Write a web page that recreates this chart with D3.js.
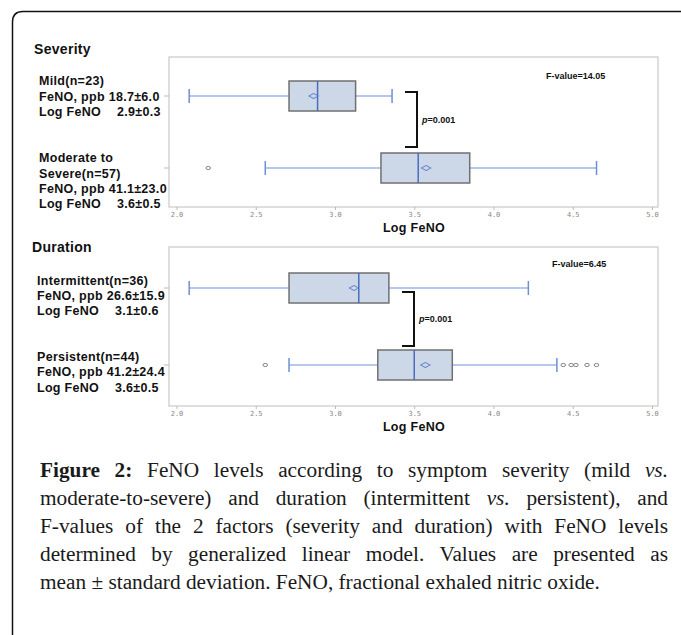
<!DOCTYPE html>
<html>
<head>
<meta charset="utf-8">
<script src="https://cdn.jsdelivr.net/npm/d3@7"></script>
<style>
  body { margin: 0; background: #fff; }
  #wrap { position: relative; width: 681px; height: 635px; overflow: hidden; }
  #caption { position: absolute; left: 40px; top: 456px; width: 628px;
    font-family: "Liberation Serif", "DejaVu Serif", serif; font-size: 21.3px; line-height: 28px; color: #1a1a1a; }
  #caption div { text-align: justify; text-align-last: justify; white-space: nowrap; }
  #caption div.last { text-align-last: left; }
</style>
</head>
<body>
<div id="wrap">
<svg width="681" height="635"></svg>
<div id="caption"></div>
</div>
<script>
// ---- data ----
let panelTitles = ["Severity", "Duration"];
let fValues = ["F-value=14.05", "F-value=6.45"];
let pValues = ["0.001", "0.001"];
// each label line: [left text, value text placed in a second column]
let groupLabels = [
  [[["Mild(n=23)"], ["FeNO, ppb 18.7\u00b16.0"], ["Log FeNO", "2.9\u00b10.3"]],
   [["Moderate to"], ["Severe(n=57)"], ["FeNO, ppb 41.1\u00b123.0"], ["Log FeNO", "3.6\u00b10.5"]]],
  [[["Intermittent(n=36)"], ["FeNO, ppb 26.6\u00b115.9"], ["Log FeNO", "3.1\u00b10.6"]],
   [["Persistent(n=44)"], ["FeNO, ppb 41.2\u00b124.4"], ["Log FeNO", "3.6\u00b10.5"]]]
];
let groups = [["mild", "modsev"], ["intermittent", "persistent"]];
let whiskerLow  = [[2.08, 2.56], [2.08, 2.71]];
let q1          = [[2.71, 3.29], [2.71, 3.27]];
let median      = [[2.89, 3.525], [3.15, 3.50]];
let q3          = [[3.13, 3.85], [3.34, 3.74]];
let whiskerHigh = [[3.36, 4.65], [4.22, 4.40]];
let means       = [[2.865, 3.575], [3.12, 3.57]];
let outliers    = [[[], [2.20]], [[], [2.56, 4.44, 4.49, 4.52, 4.59, 4.65]]];
let xTicks = [2.0, 2.5, 3.0, 3.5, 4.0, 4.5, 5.0];
let axisTitle = "Log FeNO";
let captionLines = [
  "<b>Figure 2:</b> FeNO levels according to symptom severity (mild <i>vs.</i>",
  "moderate-to-severe) and duration (intermittent <i>vs.</i> persistent), and",
  "F-values of the 2 factors (severity and duration) with FeNO levels",
  "determined by generalized linear model. Values are presented as",
  "mean \u00b1 standard deviation. FeNO, fractional exhaled nitric oxide."
];

// ---- layout ----
let svg = d3.select("svg");
let font = "'Liberation Sans', Arial, sans-serif";
let frameL = 169, frameR = 658;
let panels = [
  {top: 57, bottom: 207, rows: [96, 168], titleY: 49, labelY: [[81, 97, 112], [158, 174, 189, 204]], labelX: 39, titleX: 34,
   bracket: {x0: 405, x1: 417, y0: 92, y1: 147}, fX: 546, fY: 76},
  {top: 247, bottom: 406, rows: [288, 365], titleY: 247, labelY: [[281, 296, 311], [357, 372, 388]], labelX: 37, titleX: 32,
   bracket: {x0: 402, x1: 414, y0: 292, y1: 346}, fX: 552, fY: 264}
];

let x = d3.scaleLinear().domain([2.0, 5.0]).range([176.5, 652]);

// outer border
svg.append("path")
  .attr("d", "M12.5,635 L12.5,22 Q12.5,11.5 23,11.5 L681,11.5")
  .attr("fill", "none").attr("stroke", "#111").attr("stroke-width", 1.5);

panels.forEach(function(p, i) {
  let g = svg.append("g");
  let y = d3.scaleOrdinal().domain(groups[i]).range(p.rows);

  g.append("text").attr("x", p.titleX).attr("y", p.titleY).attr("dy", "0.35em")
    .attr("font-family", font).attr("font-weight", 700).attr("font-size", 14).attr("letter-spacing", 0.3).attr("fill", "#111")
    .text(panelTitles[i]);

  groupLabels[i].forEach(function(lines, j) {
    lines.forEach(function(t, k) {
      let lab = g.append("text").attr("y", p.labelY[j][k]).attr("dy", "0.35em")
        .attr("font-family", font).attr("font-weight", 700).attr("font-size", 12.5)
        .attr("letter-spacing", 0.3).attr("fill", "#111");
      lab.append("tspan").attr("x", p.labelX).text(t[0]);
      if (t[1]) lab.append("tspan").attr("x", p.labelX + 78).text(t[1]);
    });
  });

  // frame
  g.append("rect").attr("x", frameL).attr("y", p.top).attr("width", frameR - frameL).attr("height", p.bottom - p.top)
    .attr("fill", "none").attr("stroke", "#d4d4d4").attr("stroke-width", 1.5);

  // x axis
  let ax = g.append("g").attr("transform", "translate(0," + p.bottom + ")")
    .call(d3.axisBottom(x).tickValues(xTicks).tickFormat(d3.format(".1f")).tickSize(3).tickPadding(2));
  ax.select(".domain").remove();
  ax.selectAll("line").attr("stroke", "#bbb");
  ax.selectAll("text").attr("font-family", "'DejaVu Sans Mono', monospace").attr("font-size", 7).attr("fill", "#888");

  g.append("text").attr("x", 414).attr("y", p.bottom + 21).attr("dy", "0.35em").attr("text-anchor", "middle")
    .attr("font-family", font).attr("font-weight", 700).attr("font-size", 12.5).attr("letter-spacing", 0.3).attr("fill", "#111")
    .text(axisTitle);

  // y ticks
  groups[i].forEach(function(d) {
    g.append("line").attr("x1", frameL - 5).attr("x2", frameL).attr("y1", y(d)).attr("y2", y(d))
      .attr("stroke", "#bbb");
  });

  let bh = 30;
  groups[i].forEach(function(d, j) {
    let cy = y(d);
    let blue = "#6d8fd6";
    g.append("line").attr("x1", x(whiskerLow[i][j])).attr("x2", x(q1[i][j])).attr("y1", cy).attr("y2", cy)
      .attr("stroke", blue).attr("stroke-width", 1.2);
    g.append("line").attr("x1", x(q3[i][j])).attr("x2", x(whiskerHigh[i][j])).attr("y1", cy).attr("y2", cy)
      .attr("stroke", blue).attr("stroke-width", 1.2);
    [whiskerLow[i][j], whiskerHigh[i][j]].forEach(function(v) {
      g.append("line").attr("x1", x(v)).attr("x2", x(v)).attr("y1", cy - 7).attr("y2", cy + 7)
        .attr("stroke", blue).attr("stroke-width", 1.5);
    });
    g.append("rect").attr("x", x(q1[i][j])).attr("y", cy - bh / 2).attr("width", x(q3[i][j]) - x(q1[i][j])).attr("height", bh)
      .attr("fill", "#ccd7e7").attr("stroke", "#707070").attr("stroke-width", 1.5);
    g.append("line").attr("x1", x(median[i][j])).attr("x2", x(median[i][j])).attr("y1", cy - bh / 2).attr("y2", cy + bh / 2)
      .attr("stroke", "#4a6cc2").attr("stroke-width", 1.5);
    let mx = x(means[i][j]);
    g.append("path").attr("d", d3.symbol(d3.symbolDiamond2 || d3.symbolDiamond, 34)())
      .attr("transform", "translate(" + mx + "," + cy + ") scale(1.3,0.7)")
      .attr("fill", "none").attr("stroke", "#5b7fd0").attr("stroke-width", 1);
    outliers[i][j].forEach(function(v) {
      g.append("ellipse").attr("cx", x(v)).attr("cy", cy).attr("rx", 2.3).attr("ry", 1.6)
        .attr("fill", "none").attr("stroke", "#777").attr("stroke-width", 0.9);
    });
  });

  // significance bracket
  let b = p.bracket;
  g.append("path").attr("d", "M" + b.x0 + "," + b.y0 + " H" + b.x1 + " V" + b.y1 + " H" + b.x0)
    .attr("fill", "none").attr("stroke", "#111").attr("stroke-width", 2);
  let pt = g.append("text").attr("x", b.x1 + 5).attr("y", (b.y0 + b.y1) / 2).attr("dy", "0.35em")
    .attr("font-family", font).attr("font-weight", 700).attr("font-size", 9).attr("fill", "#111");
  pt.append("tspan").attr("font-style", "italic").text("p");
  pt.append("tspan").text("=" + pValues[i]);

  g.append("text").attr("x", p.fX).attr("y", p.fY).attr("dy", "0.35em")
    .attr("font-family", font).attr("font-weight", 700).attr("font-size", 9).attr("fill", "#111")
    .text(fValues[i]);
});

// caption
d3.select("#caption").selectAll("div").data(captionLines).join("div")
  .attr("class", function(d, i) { return i === captionLines.length - 1 ? "last" : null; })
  .html(function(d) { return d; });
</script>
</body>
</html>
